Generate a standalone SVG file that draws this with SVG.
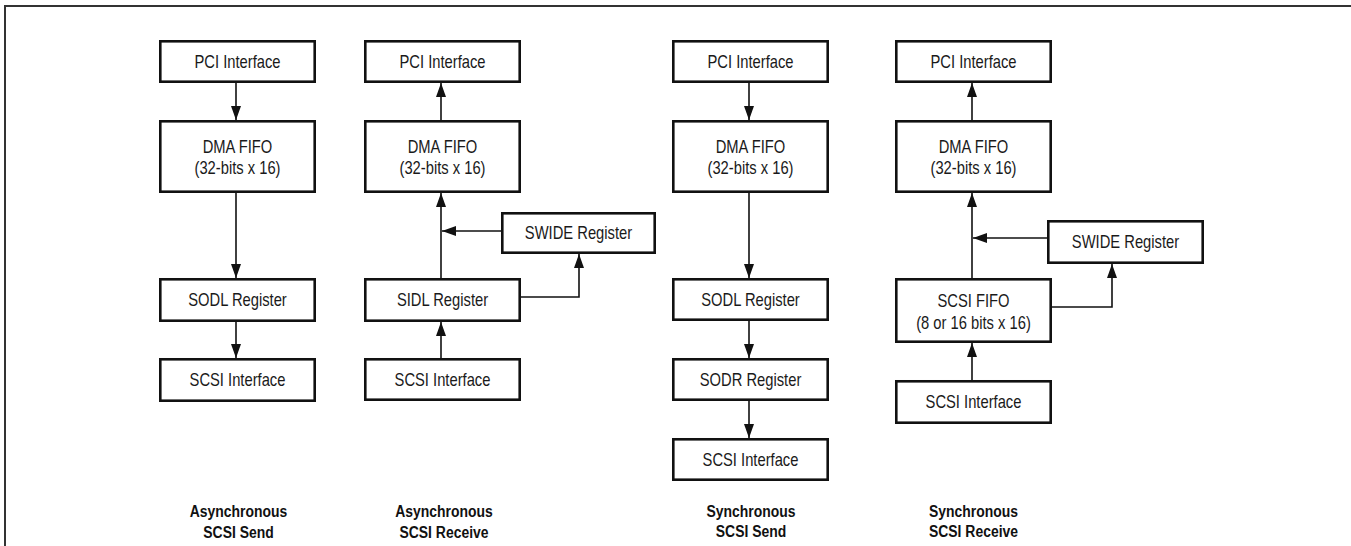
<svg xmlns="http://www.w3.org/2000/svg" width="1351" height="546" viewBox="0 0 1351 546">
<style>
.box{fill:#fff;stroke:#111;stroke-width:2.6}
.t{font-family:"Liberation Sans",Arial,sans-serif;font-size:18px;fill:#1a1a1a;text-anchor:middle}
.lbl{font-family:"Liberation Sans",Arial,sans-serif;font-size:17px;font-weight:bold;fill:#111;text-anchor:middle}
.c{fill:none;stroke:#111;stroke-width:1.6}
.frame{fill:none;stroke:#333;stroke-width:2}
</style>
<defs>
<marker id="ah" markerUnits="userSpaceOnUse" markerWidth="14" markerHeight="10" refX="14" refY="5" orient="auto">
<path d="M0,0 L14,5 L0,10 Z" fill="#111"/>
</marker>
</defs>
<path class="frame" d="M5,546 L5,6 L1351,6"/>

<!-- Column 1: Asynchronous SCSI Send -->
<g id="c1-pci"><rect class="box" x="160.3" y="41.3" width="154.4" height="40.4"/><text class="t" transform="translate(237.5,68) scale(0.82,1)">PCI Interface</text></g>
<g id="c1-dma"><rect class="box" x="160.3" y="121.3" width="154.4" height="70.4"/><text class="t" transform="translate(237.5,153) scale(0.82,1)">DMA FIFO</text><text class="t" transform="translate(237.5,174) scale(0.82,1)">(32-bits x 16)</text></g>
<g id="c1-sodl"><rect class="box" x="160.3" y="279.3" width="154.4" height="41.4"/><text class="t" transform="translate(237.5,306) scale(0.82,1)">SODL Register</text></g>
<g id="c1-scsi"><rect class="box" x="160.3" y="359.3" width="154.4" height="41.4"/><text class="t" transform="translate(237.5,386) scale(0.82,1)">SCSI Interface</text></g>
<g id="c1-label"><text class="lbl" transform="translate(238.5,517) scale(0.82,1)">Asynchronous</text><text class="lbl" transform="translate(238.5,538) scale(0.82,1)">SCSI Send</text></g>

<!-- Column 2: Asynchronous SCSI Receive -->
<g id="c2-pci"><rect class="box" x="365.3" y="41.3" width="154.4" height="40.4"/><text class="t" transform="translate(442.5,68) scale(0.82,1)">PCI Interface</text></g>
<g id="c2-dma"><rect class="box" x="365.3" y="121.3" width="154.4" height="70.4"/><text class="t" transform="translate(442.5,153) scale(0.82,1)">DMA FIFO</text><text class="t" transform="translate(442.5,174) scale(0.82,1)">(32-bits x 16)</text></g>
<g id="c2-swide"><rect class="box" x="502.3" y="213.3" width="152.4" height="39.4"/><text class="t" transform="translate(578.5,239) scale(0.82,1)">SWIDE Register</text></g>
<g id="c2-sidl"><rect class="box" x="365.3" y="279.3" width="154.4" height="41.4"/><text class="t" transform="translate(442.5,306) scale(0.82,1)">SIDL Register</text></g>
<g id="c2-scsi"><rect class="box" x="365.3" y="359.3" width="154.4" height="40.4"/><text class="t" transform="translate(442.5,386) scale(0.82,1)">SCSI Interface</text></g>
<g id="c2-label"><text class="lbl" transform="translate(444,517) scale(0.82,1)">Asynchronous</text><text class="lbl" transform="translate(444,538) scale(0.82,1)">SCSI Receive</text></g>

<!-- Column 3: Synchronous SCSI Send -->
<g id="c3-pci"><rect class="box" x="673.3" y="41.3" width="154.4" height="40.4"/><text class="t" transform="translate(750.5,68) scale(0.82,1)">PCI Interface</text></g>
<g id="c3-dma"><rect class="box" x="673.3" y="121.3" width="154.4" height="70.4"/><text class="t" transform="translate(750.5,153) scale(0.82,1)">DMA FIFO</text><text class="t" transform="translate(750.5,174) scale(0.82,1)">(32-bits x 16)</text></g>
<g id="c3-sodl"><rect class="box" x="673.3" y="279.3" width="154.4" height="40.4"/><text class="t" transform="translate(750.5,306) scale(0.82,1)">SODL Register</text></g>
<g id="c3-sodr"><rect class="box" x="673.3" y="359.3" width="154.4" height="40.4"/><text class="t" transform="translate(750.5,386) scale(0.82,1)">SODR Register</text></g>
<g id="c3-scsi"><rect class="box" x="673.3" y="439.3" width="154.4" height="40.4"/><text class="t" transform="translate(750.5,466) scale(0.82,1)">SCSI Interface</text></g>
<g id="c3-label"><text class="lbl" transform="translate(751,517) scale(0.82,1)">Synchronous</text><text class="lbl" transform="translate(751,537) scale(0.82,1)">SCSI Send</text></g>

<!-- Column 4: Synchronous SCSI Receive -->
<g id="c4-pci"><rect class="box" x="896.3" y="41.3" width="154.4" height="40.4"/><text class="t" transform="translate(973.5,68) scale(0.82,1)">PCI Interface</text></g>
<g id="c4-dma"><rect class="box" x="896.3" y="121.3" width="154.4" height="70.4"/><text class="t" transform="translate(973.5,153) scale(0.82,1)">DMA FIFO</text><text class="t" transform="translate(973.5,174) scale(0.82,1)">(32-bits x 16)</text></g>
<g id="c4-swide"><rect class="box" x="1048.3" y="221.3" width="154.4" height="41.4"/><text class="t" transform="translate(1125.5,248) scale(0.82,1)">SWIDE Register</text></g>
<g id="c4-fifo"><rect class="box" x="896.3" y="279.3" width="154.4" height="62.4"/><text class="t" transform="translate(973.5,307) scale(0.82,1)">SCSI FIFO</text><text class="t" transform="translate(973.5,329) scale(0.82,1)">(8 or 16 bits x 16)</text></g>
<g id="c4-scsi"><rect class="box" x="896.3" y="381.3" width="154.4" height="41.4"/><text class="t" transform="translate(973.5,408) scale(0.82,1)">SCSI Interface</text></g>
<g id="c4-label"><text class="lbl" transform="translate(973.5,517) scale(0.82,1)">Synchronous</text><text class="lbl" transform="translate(973.5,537) scale(0.82,1)">SCSI Receive</text></g>

<g id="connectors">
<!-- col 1 -->
<path class="c" marker-end="url(#ah)" d="M236,83 L236,120"/>
<path class="c" marker-end="url(#ah)" d="M236,193 L236,278"/>
<path class="c" marker-end="url(#ah)" d="M236,322 L236,358"/>
<!-- col 2 -->
<path class="c" marker-end="url(#ah)" d="M441,120 L441,83"/>
<path class="c" marker-end="url(#ah)" d="M441,278 L441,193"/>
<path class="c" marker-end="url(#ah)" d="M441,358 L441,322"/>
<path class="c" marker-end="url(#ah)" d="M501,231 L442,231"/>
<path class="c" marker-end="url(#ah)" d="M521,297 L579,297 L579,254"/>
<!-- col 3 -->
<path class="c" marker-end="url(#ah)" d="M749,83 L749,120"/>
<path class="c" marker-end="url(#ah)" d="M749,193 L749,278"/>
<path class="c" marker-end="url(#ah)" d="M749,321 L749,358"/>
<path class="c" marker-end="url(#ah)" d="M749,401 L749,438"/>
<!-- col 4 -->
<path class="c" marker-end="url(#ah)" d="M972,120 L972,83"/>
<path class="c" marker-end="url(#ah)" d="M972,278 L972,193"/>
<path class="c" marker-end="url(#ah)" d="M972,380 L972,343"/>
<path class="c" marker-end="url(#ah)" d="M1047,238 L973,238"/>
<path class="c" marker-end="url(#ah)" d="M1052,307 L1112,307 L1112,264"/>
</g>
</svg>
